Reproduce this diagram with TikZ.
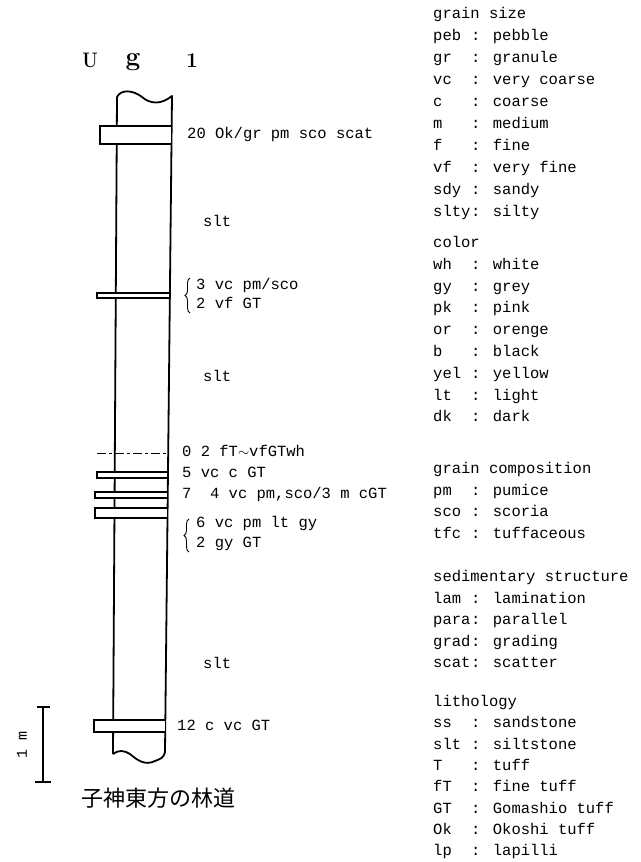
\documentclass[tikz,border=0pt]{standalone}
\usepackage{fontspec}
\newfontfamily\mono{Liberation Mono}
\newfontfamily\cjk{Noto Sans CJK JP}
\usetikzlibrary{decorations.pathreplacing}
\begin{document}
\begin{tikzpicture}[x=1pt,y=-1pt,
  colline/.style={line width=1.8pt, line join=round},
  bed/.style={line width=1.3pt, fill=white},
  lab/.style={anchor=west, inner sep=0pt, font=\mono\fontsize{15.5}{16}\selectfont, text height=10pt, text depth=3pt},
  leg/.style={lab},
  brc/.style={decorate, decoration={brace, amplitude=5pt}, line width=0.9pt},
  ttl/.style={inner sep=0pt, font=\bfseries\fontsize{21}{21}\selectfont},
]
\useasboundingbox (0,0) rectangle (640,862);

% title
\node[ttl, xscale=0.85, anchor=base] (tU) at (90,67) {U};
\node[ttl, scale=1.25, anchor=base] (tg) at (133,65) {g};
\node[ttl, anchor=base] (t1) at (192,67) {1};

% column
\draw[colline] (113,754) -- (117,97)
  .. controls (121,89) and (133,90) .. (142,97)
  .. controls (150,104) and (161,105) .. (172,96)
  -- (165,752)
  .. controls (164,758) and (160,759) .. (155,761)
  .. controls (145,766) and (137,760) .. (130,754)
  .. controls (124,750) and (118,750) .. (113,754);

% beds
\draw[bed] (100,126) rectangle (171.6,144);
\draw[bed] (97,293) rectangle (169.9,298);
\draw[line width=1pt, dash pattern=on 9pt off 3pt on 3pt off 3pt] (97,453) -- (168.2,453);
\draw[bed] (97,472) rectangle (168,478);
\draw[bed] (95,492) rectangle (167.8,498);
\draw[bed] (95,508) rectangle (167.6,518);
\draw[bed] (94,720) rectangle (165.3,732);

% labels on column
\node[lab] (l1) at (187,135) {20 Ok/gr pm sco scat};
\node[lab] (s1) at (203,223) {slt};
\draw[brc] (190,313) -- (190,278);
\node[lab] (l2a) at (196,286) {3 vc pm/sco};
\node[lab] (l2b) at (196,305) {2 vf GT};
\node[lab] (s2) at (203,378) {slt};
\node[lab] (l3) at (182,453) {0 2 fT$\sim$vfGTwh};
\node[lab] (l4) at (182,474) {5 vc c GT};
\node[lab] (l5) at (182,495) {7\ \ 4 vc pm,sco/3 m cGT};
\draw[brc] (189,552) -- (189,519);
\node[lab] (l6a) at (196,524) {6 vc pm lt gy};
\node[lab] (l6b) at (196,544) {2 gy GT};
\node[lab] (s3) at (203,665) {slt};
\node[lab] (l7) at (177,727) {12 c vc GT};

% scale bar
\draw[line width=2.6pt] (43,707) -- (43,782);
\draw[line width=2pt] (37,707) -- (50,707);
\draw[line width=2.2pt] (35,782) -- (51,782);
\node[inner sep=0pt, rotate=90, font=\mono\fontsize{15}{15}\selectfont] (sc) at (22,745) {1 m};

% caption
\node[inner sep=0pt, font=\cjk\fontsize{22}{22}\selectfont] (cap) at (158,798) {子神東方の林道};

% legend
\node[leg] (h1) at (433,14.5) {grain size};
\foreach \k/\v [count=\i] in {peb/pebble, gr/granule, vc/very coarse, c/coarse, m/medium, f/fine, vf/very fine, sdy/sandy, slty/silty}
  { \node[leg] (a\i) at (433,14.5+22*\i) {\k};
    \node[leg] (av\i) at (471,14.5+22*\i) {: \v}; }

\node[leg] (h2) at (433,244) {color};
\foreach \k/\v [count=\i] in {wh/white, gy/grey, pk/pink, or/orenge, b/black, yel/yellow, lt/light, dk/dark}
  { \node[leg] (b\i) at (433,244+21.8*\i) {\k};
    \node[leg] (bv\i) at (471,244+21.8*\i) {: \v}; }

\node[leg] (h3) at (433,470) {grain composition};
\foreach \k/\v [count=\i] in {pm/pumice, sco/scoria, tfc/tuffaceous}
  { \node[leg] (c\i) at (433,470+21.6*\i) {\k};
    \node[leg] (cv\i) at (471,470+21.6*\i) {: \v}; }

\node[leg] (h4) at (433,578) {sedimentary structure};
\foreach \k/\v [count=\i] in {lam/lamination, para/parallel, grad/grading, scat/scatter}
  { \node[leg] (d\i) at (433,578+21.6*\i) {\k};
    \node[leg] (dv\i) at (471,578+21.6*\i) {: \v}; }

\node[leg] (h5) at (433,703) {lithology};
\foreach \k/\v [count=\i] in {ss/sandstone, slt/siltstone, T/tuff, fT/fine tuff, GT/Gomashio tuff, Ok/Okoshi tuff, lp/lapilli}
  { \node[leg] (e\i) at (433,703+21.3*\i) {\k};
    \node[leg] (ev\i) at (471,703+21.3*\i) {: \v}; }
\end{tikzpicture}
\end{document}
